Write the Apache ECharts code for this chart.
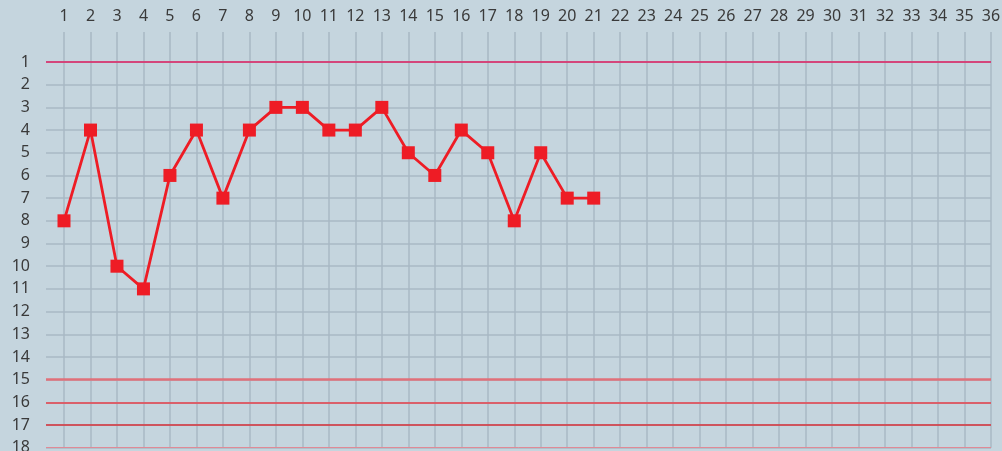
<!DOCTYPE html>
<html lang="en">
<head>
    <meta charset="UTF-8">
    <title>Ranking</title>
    <script src="https://cdn.jsdelivr.net/npm/echarts@6.0.0/dist/echarts.min.js"></script>
    <style>
        html, body { margin: 0; padding: 0; background: #c5d5de; overflow: hidden; }
    </style>
</head>
<body>
<div id="chart" style="width: 1002px; height: 451px;"></div>
<script>
    // rounds along the top
    const rounds = [];
    for (let i = 1; i <= 36; i++) rounds.push(String(i));

    // position per round (lower = better)
    const positions = [8, 4, 10, 11, 6, 4, 7, 4, 3, 3, 4, 4, 3, 5, 6, 4, 5, 8, 5, 7, 7];

    // coloured reference lines
    const refLevels = [1, 15, 16, 17, 18];
    const refColors = ['#e01e60', '#e0707a', '#e8404a', '#d83038', '#e08a96'];
    const refWidths = [1.5, 2.5, 1.5, 1.5, 1];

    const gridColor = '#a8b8c4';
    const labelFont = { color: '#3a3a3a', fontSize: 16, fontFamily: 'Noto Sans' };

    const chart = echarts.init(document.querySelector('#chart'));

    chart.setOption({
        animation: false,
        backgroundColor: '#c5d5de',
        grid: [
            { left: 64, right: 11, top: 62, height: 385.7, outerBoundsMode: 'none' },
            { left: 46, right: 11, top: 62, height: 385.7, outerBoundsMode: 'none' }
        ],
        xAxis: [
            {
                gridIndex: 0,
                type: 'category',
                data: rounds,
                boundaryGap: false,
                position: 'top',
                axisLine: { show: false },
                axisTick: { show: true, length: 30, lineStyle: { color: gridColor, width: 1.5 } },
                axisLabel: Object.assign({ margin: 38, interval: 0 }, labelFont),
                splitLine: { show: true, lineStyle: { color: gridColor, width: 1.5 } }
            },
            { gridIndex: 1, type: 'value', min: 0, max: 1, show: false }
        ],
        yAxis: [
            { gridIndex: 0, type: 'value', inverse: true, min: 1, max: 18, interval: 1, show: false },
            {
                gridIndex: 1,
                type: 'value',
                inverse: true,
                min: 1,
                max: 18,
                interval: 1,
                axisLine: { show: false },
                axisTick: { show: false },
                axisLabel: Object.assign({ margin: 16 }, labelFont),
                splitLine: { show: true, lineStyle: { color: gridColor, width: 1.5 } }
            }
        ],
        series: [
            {
                type: 'line',
                xAxisIndex: 1,
                yAxisIndex: 1,
                data: [],
                silent: true,
                markLine: {
                    silent: true,
                    symbol: 'none',
                    label: { show: false },
                    data: refLevels.map((v, i) => ({
                        yAxis: v,
                        lineStyle: { color: refColors[i], width: refWidths[i], type: 'solid' }
                    }))
                }
            },
            {
                type: 'line',
                xAxisIndex: 0,
                yAxisIndex: 0,
                data: positions,
                symbol: 'rect',
                symbolSize: 13,
                lineStyle: { color: '#ee1c25', width: 2.8 },
                itemStyle: { color: '#ee1c25' }
            }
        ]
    });
</script>
</body>
</html>
